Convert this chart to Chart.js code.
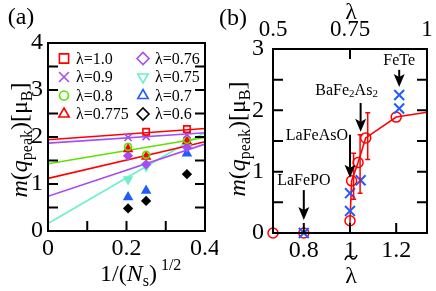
<!DOCTYPE html>
<html>
<head>
<meta charset="utf-8">
<script src="https://cdn.jsdelivr.net/npm/chart.js@4.4.1/dist/chart.umd.min.js"></script>
<style>
  html, body { margin: 0; padding: 0; background: #fff; }
  #wrap { position: relative; width: 436px; height: 291px; }
  canvas { position: absolute; top: 0; }
</style>
</head>
<body>
<div id="wrap">
  <canvas id="chart-a" width="218" height="291" style="left:0"></canvas>
  <canvas id="chart-b" width="218" height="291" style="left:218px"></canvas>
</div>
<script>
// ---- panel (a): m(q_peak) vs 1/sqrt(Ns)
var invRootNs = [0.204, 0.25, 0.354];
var lam10  = [null, 2.11, 2.17];
var lam09  = [1.99, 2.01, 2.05];
var lam08  = [1.79, 1.62, 1.94];
var lam0775 = [1.74, 1.58, 1.91];
var lam076 = [1.60, 1.42, 1.78];
var lam075 = [1.10, 1.37, 1.80];
var lam07  = [0.72, 0.86, 1.65];
var lam06  = [0.48, 0.64, 1.21];

// linear extrapolations, value at x=0 and x=0.4
var fitX = [0, 0.4];
var fit10  = [1.94, 2.18];
var fit09  = [1.87, 2.09];
var fit08  = [1.43, 1.99];
var fit0775 = [1.12, 1.90];
var fit076 = [0.74, 1.85];
var fit075 = [0.16, 2.10];

var xTicksA = [0, 0.2, 0.4];
var xMinorA = [0.1, 0.2, 0.3];
var yTicksA = [0, 1, 2, 3, 4];
var yMinorA = [0.5, 1, 1.5, 2, 2.5, 3, 3.5];

// ---- panel (b): m(q_peak) vs lambda-tilde
var lamTilde = [0.6667, 0.8, 1.0, 1.0, 1.007, 1.035, 1.068, 1.2, 1.3333];
var mPeak    = [0, 0, 0, 0.2, 0.85, 1.15, 1.55, 1.89, 1.97];
var errLo    = [null, null, null, null, 0.55, 0.65, 1.2, null, null];
var errHi    = [null, null, null, null, 1.3, 1.6, 1.96, null, null];
var crossX = [0.8, 1.0, 1.0, 1.046, 1.213, 1.213];
var crossY = [0, 0.36, 0.65, 0.86, 2.03, 2.25];

var xTicksB = [0.8, 1, 1.2];
var topTicksB = [0.5, 0.75, 1];
var yTicksB = [0, 1, 2, 3];
var yMinorB = [0.5, 1, 1.5, 2, 2.5];

var materials = ['LaFePO', 'LaFeAsO', 'BaFe2As2', 'FeTe'];
var arrowX    = [0.8, 1.0, 1.046, 1.213];
var arrowTop  = [0.70, 1.60, 2.12, 2.66];
var arrowTip  = [0.21, 0.90, 1.65, 2.38];

var RED = '#ff0000', PURPLE = '#a64cf2', GREEN = '#5ee000', CYAN = '#6cf0cc', BLUE = '#1f5cff', BLACK = '#000000';
var SERIF = 'Liberation Serif';

function pts(xs, ys) {
  var out = [];
  for (var i = 0; i < xs.length; i++) {
    if (ys[i] !== null) out.push({ x: xs[i], y: ys[i] });
  }
  return out;
}

function fixBox(size, horiz) {
  return function (s) {
    if (horiz) s.height = size; else s.width = size;
    s.paddingLeft = s.paddingRight = s.paddingTop = s.paddingBottom = 0;
  };
}
function setTicks(vals) {
  return function (s) { s.ticks = vals.map(function (v) { return { value: v }; }); };
}

function drawRich(ctx, segs, x, y) {
  segs.forEach(function (s) {
    ctx.font = s.f;
    ctx.fillText(s.t, x, y + (s.dy || 0));
    x += ctx.measureText(s.t).width;
  });
}
function richWidth(ctx, segs) {
  var w = 0;
  segs.forEach(function (s) { ctx.font = s.f; w += ctx.measureText(s.t).width; });
  return w;
}

var yTitleSegs = [
  { t: 'm', f: 'italic 24px ' + SERIF },
  { t: '(', f: '24px ' + SERIF },
  { t: 'q', f: 'italic 24px ' + SERIF },
  { t: 'peak', f: '16px ' + SERIF, dy: 5 },
  { t: ')[\u03bc', f: '24px ' + SERIF },
  { t: 'B', f: '16px ' + SERIF, dy: 5 },
  { t: ']', f: '24px ' + SERIF }
];

function drawYTitle(ctx, bx, cy) {
  var w = richWidth(ctx, yTitleSegs);
  ctx.save();
  ctx.translate(bx, cy);
  ctx.rotate(-Math.PI / 2);
  ctx.textBaseline = 'alphabetic';
  ctx.textAlign = 'left';
  ctx.fillStyle = '#000';
  drawRich(ctx, yTitleSegs, -w / 2, 0);
  ctx.restore();
}

function frameAndTicks(ctx, area, marks) {
  ctx.save();
  ctx.strokeStyle = '#000';
  ctx.lineWidth = 2;
  ctx.strokeRect(area.left, area.top, area.right - area.left, area.bottom - area.top);
  ctx.beginPath();
  marks.forEach(function (m) {
    m.vals.forEach(function (v) {
      var p = m.scale.getPixelForValue(v);
      if (m.side === 'bottom') { ctx.moveTo(p, area.bottom); ctx.lineTo(p, area.bottom - 10); }
      if (m.side === 'top') { ctx.moveTo(p, area.top); ctx.lineTo(p, area.top + 10); }
      if (m.side === 'left') { ctx.moveTo(area.left, p); ctx.lineTo(area.left + 10, p); }
      if (m.side === 'right') { ctx.moveTo(area.right, p); ctx.lineTo(area.right - 10, p); }
    });
  });
  ctx.stroke();
  ctx.restore();
}

// ---------- panel (a)
var seriesA = [
  { label: '\u03bb=1.0',   data: lam10,   color: RED,    style: 'rect',     fill: false, r: 4.5, lr: 6.5, rot: 0 },
  { label: '\u03bb=0.9',   data: lam09,   color: PURPLE, style: 'crossRot', fill: false, r: 5,   lr: 7,   rot: 0 },
  { label: '\u03bb=0.8',   data: lam08,   color: GREEN,  style: 'circle',   fill: false, r: 3.5, lr: 4.5, rot: 0 },
  { label: '\u03bb=0.775', data: lam0775, color: RED,    style: 'triangle', fill: true,  r: 4.5, lr: 6,   rot: 0 },
  { label: '\u03bb=0.76',  data: lam076,  color: PURPLE, style: 'rectRot',  fill: true,  r: 4,   lr: 6,   rot: 0 },
  { label: '\u03bb=0.75',  data: lam075,  color: CYAN,   style: 'triangle', fill: true,  r: 4.5, lr: 6,   rot: 180 },
  { label: '\u03bb=0.7',   data: lam07,   color: BLUE,   style: 'triangle', fill: true,  r: 4.5, lr: 6,   rot: 0 },
  { label: '\u03bb=0.6',   data: lam06,   color: BLACK,  style: 'rectRot',  fill: true,  r: 4,   lr: 6,   rot: 0 }
];
var fitsA = [
  { data: fit10, color: RED }, { data: fit09, color: PURPLE }, { data: fit08, color: GREEN },
  { data: fit0775, color: RED }, { data: fit076, color: PURPLE }, { data: fit075, color: CYAN }
];

var datasetsA = [];
fitsA.forEach(function (f) {
  datasetsA.push({
    data: pts(fitX, f.data), showLine: true, borderColor: f.color, borderWidth: 1.6,
    pointRadius: 0, order: 2
  });
});
seriesA.forEach(function (s) {
  datasetsA.push({
    label: s.label, data: pts(invRootNs, s.data), showLine: false,
    pointStyle: s.style, pointRadius: s.r, pointRotation: s.rot, pointBorderWidth: 1.6,
    pointBorderColor: s.color, pointBackgroundColor: s.fill ? s.color : 'rgba(0,0,0,0)',
    order: 1, clip: false
  });
});

var legendPos = [[64, 58.5], [64, 77], [64, 95.5], [64, 114], [143, 58.5], [143, 77], [143, 95.5], [143, 114]];

var panelA = {
  id: 'panelA',
  afterDraw: function (chart) {
    var ctx = chart.ctx, area = chart.chartArea;
    frameAndTicks(ctx, area, [
      { scale: chart.scales.x, vals: xMinorA, side: 'bottom' },
      { scale: chart.scales.y, vals: yMinorA, side: 'left' },
      { scale: chart.scales.y, vals: yMinorA, side: 'right' }
    ]);
    // legend
    ctx.save();
    seriesA.forEach(function (s, i) {
      var p = legendPos[i];
      ctx.strokeStyle = s.color;
      ctx.fillStyle = 'rgba(0,0,0,0)';
      Chart.helpers.drawPoint(ctx, { pointStyle: s.style, radius: s.lr, borderWidth: 2.2, rotation: s.rot }, p[0], p[1]);
      ctx.fillStyle = '#000';
      ctx.font = '16px ' + SERIF;
      ctx.textBaseline = 'middle';
      ctx.textAlign = 'left';
      ctx.fillText(s.label, p[0] + 12, p[1] + 1);
    });
    ctx.restore();
    // titles
    drawYTitle(ctx, 27, 140);
    var xs = [
      { t: '1/(', f: '24px ' + SERIF },
      { t: 'N', f: 'italic 24px ' + SERIF },
      { t: 's', f: '16px ' + SERIF, dy: 5 },
      { t: ')', f: '24px ' + SERIF },
      { t: ' 1/2', f: '16px ' + SERIF, dy: -11 }
    ];
    ctx.save();
    ctx.fillStyle = '#000';
    ctx.textBaseline = 'alphabetic';
    drawRich(ctx, xs, 100, 281);
    ctx.font = '24px ' + SERIF;
    ctx.textAlign = 'center';
    ctx.fillText('(a)', 21, 24);
    ctx.restore();
  }
};

new Chart(document.getElementById('chart-a'), {
  type: 'scatter',
  data: { datasets: datasetsA },
  options: {
    responsive: false, animation: false, devicePixelRatio: 1,
    layout: { padding: { top: 43, right: 13, left: 0, bottom: 0 } },
    plugins: { legend: { display: false }, tooltip: { enabled: false } },
    scales: {
      x: {
        type: 'linear', position: 'bottom', min: 0, max: 0.4,
        afterFit: fixBox(60, true), afterBuildTicks: setTicks(xTicksA),
        grid: { display: false, drawTicks: false }, border: { display: false },
        ticks: { color: '#000', font: { family: SERIF, size: 24 }, padding: 3, maxRotation: 0,
                 callback: function (v) { return String(v); } }
      },
      y: {
        type: 'linear', min: 0, max: 4,
        afterFit: fixBox(48, false), afterBuildTicks: setTicks(yTicksA),
        grid: { display: false, drawTicks: false }, border: { display: false },
        ticks: { color: '#000', font: { family: SERIF, size: 24 }, padding: 5,
                 callback: function (v) { return String(v); } }
      }
    }
  },
  plugins: [panelA]
});

// ---------- panel (b)
var notes = [
  { dx: 0,   dy: -9,  align: 'center' },
  { dx: -2,  dy: 1,   align: 'right' },
  { dx: -14, dy: -12, align: 'center' },
  { dx: 0,   dy: -9,  align: 'center' }
];

function materialSegs(name) {
  if (name === 'BaFe2As2') {
    return [
      { t: 'BaFe', f: '16px ' + SERIF }, { t: '2', f: '11px ' + SERIF, dy: 3 },
      { t: 'As', f: '16px ' + SERIF }, { t: '2', f: '11px ' + SERIF, dy: 3 }
    ];
  }
  return [{ t: name, f: '16px ' + SERIF }];
}

var panelB = {
  id: 'panelB',
  afterDatasetsDraw: function (chart) {
    var ctx = chart.ctx, xs = chart.scales.x, ys = chart.scales.y;
    ctx.save();
    ctx.strokeStyle = RED;
    ctx.lineWidth = 1.5;
    ctx.beginPath();
    for (var i = 0; i < lamTilde.length; i++) {
      if (errLo[i] === null) continue;
      var px = xs.getPixelForValue(lamTilde[i]) + 2;
      var y1 = ys.getPixelForValue(errLo[i]), y2 = ys.getPixelForValue(errHi[i]);
      ctx.moveTo(px, y1); ctx.lineTo(px, y2);
      ctx.moveTo(px - 2.5, y1); ctx.lineTo(px + 2.5, y1);
      ctx.moveTo(px - 2.5, y2); ctx.lineTo(px + 2.5, y2);
    }
    ctx.stroke();
    ctx.restore();
  },
  afterDraw: function (chart) {
    var ctx = chart.ctx, area = chart.chartArea, xs = chart.scales.x, ys = chart.scales.y;
    frameAndTicks(ctx, area, [
      { scale: xs, vals: xTicksB, side: 'bottom' },
      { scale: chart.scales.x2, vals: [0.75], side: 'top' },
      { scale: ys, vals: yMinorB, side: 'left' },
      { scale: ys, vals: yMinorB, side: 'right' }
    ]);
    // arrows + material labels
    ctx.save();
    ctx.fillStyle = '#000';
    ctx.strokeStyle = '#000';
    ctx.lineWidth = 2;
    materials.forEach(function (name, i) {
      var px = xs.getPixelForValue(arrowX[i]);
      var yt = ys.getPixelForValue(arrowTop[i]);
      var yb = ys.getPixelForValue(arrowTip[i]);
      ctx.beginPath();
      ctx.moveTo(px, yt); ctx.lineTo(px, yb - 10);
      ctx.stroke();
      ctx.beginPath();
      ctx.moveTo(px, yb); ctx.lineTo(px - 5.5, yb - 13); ctx.lineTo(px, yb - 10); ctx.lineTo(px + 5.5, yb - 13);
      ctx.closePath();
      ctx.fill();
      var segs = materialSegs(name);
      var w = richWidth(ctx, segs);
      var n = notes[i];
      var lx = n.align === 'right' ? px + n.dx - w : px + n.dx - w / 2;
      ctx.textBaseline = 'middle';
      ctx.textAlign = 'left';
      drawRich(ctx, segs, lx, yt + n.dy);
    });
    ctx.restore();
    // titles
    drawYTitle(ctx, 27, 139);
    ctx.save();
    ctx.fillStyle = '#000';
    ctx.textAlign = 'center';
    ctx.textBaseline = 'alphabetic';
    ctx.font = '24px ' + SERIF;
    ctx.fillText('(b)', 15, 25);
    ctx.fillText('\u03bb', 133, 19);
    ctx.fillText('\u03bb', 133, 283);
    // tilde over the bottom lambda
    ctx.strokeStyle = '#000';
    ctx.lineWidth = 1.4;
    ctx.beginPath();
    ctx.moveTo(127, 260);
    ctx.bezierCurveTo(129, 254, 132, 256, 133, 257.5);
    ctx.bezierCurveTo(134, 259, 137, 261, 139, 255);
    ctx.stroke();
    ctx.restore();
  }
};

new Chart(document.getElementById('chart-b'), {
  type: 'scatter',
  data: {
    datasets: [
      {
        data: pts(crossX, crossY), showLine: false,
        pointStyle: 'crossRot', pointRadius: 7, pointBorderWidth: 2,
        pointBorderColor: BLUE, order: 1, clip: false
      },
      {
        data: pts(lamTilde, mPeak), showLine: true, borderColor: RED, borderWidth: 1.6, tension: 0,
        pointStyle: 'circle', pointRadius: [5, 5, 0, 5, 5, 5, 5, 5, 0], pointBorderWidth: 1.5,
        pointBorderColor: RED, pointBackgroundColor: 'rgba(0,0,0,0)', order: 2, clip: false
      }
    ]
  },
  options: {
    responsive: false, animation: false, devicePixelRatio: 1,
    layout: { padding: { top: 0, right: 9, left: 0, bottom: 0 } },
    plugins: { legend: { display: false }, tooltip: { enabled: false } },
    scales: {
      x: {
        type: 'linear', position: 'bottom', min: 2 / 3, max: 4 / 3,
        afterFit: fixBox(58, true), afterBuildTicks: setTicks(xTicksB),
        grid: { display: false, drawTicks: false }, border: { display: false },
        ticks: { color: '#000', font: { family: SERIF, size: 24 }, padding: 3, maxRotation: 0,
                 callback: function (v) { return String(v); } }
      },
      x2: {
        type: 'linear', position: 'top', min: 0.5, max: 1,
        afterFit: fixBox(49, true), afterBuildTicks: setTicks(topTicksB),
        grid: { display: false, drawTicks: false }, border: { display: false },
        ticks: { color: '#000', font: { family: SERIF, size: 23 }, padding: 5, maxRotation: 0,
                 callback: function (v) { return String(v); } }
      },
      y: {
        type: 'linear', min: 0, max: 3,
        afterFit: fixBox(55, false), afterBuildTicks: setTicks(yTicksB),
        grid: { display: false, drawTicks: false }, border: { display: false },
        ticks: { color: '#000', font: { family: SERIF, size: 24 }, padding: 9,
                 callback: function (v) { return String(v); } }
      }
    }
  },
  plugins: [panelB]
});
</script>
</body>
</html>
